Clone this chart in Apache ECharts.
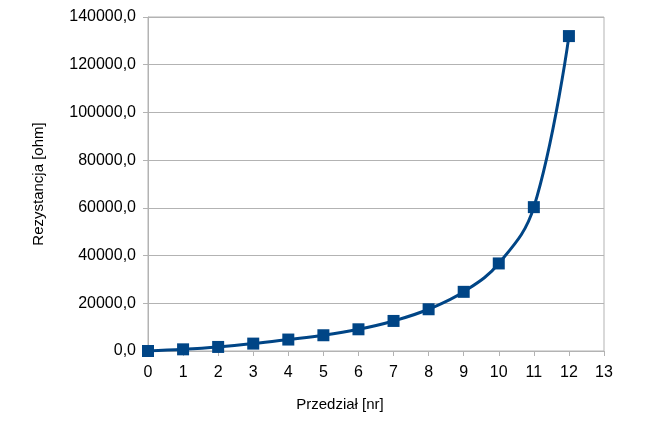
<!DOCTYPE html>
<html>
<head>
<meta charset="utf-8">
<script src="https://cdn.jsdelivr.net/npm/echarts@6/dist/echarts.min.js"></script>
<style>
  html, body { margin: 0; padding: 0; background: #fff; }
  #chart { width: 660px; height: 425px; }
</style>
</head>
<body>
<div id="chart"></div>
<script>
// numery przedziałów i odczytane rezystancje
const przedzialy = [0, 1, 2, 3, 4, 5, 6, 7, 8, 9, 10, 11, 12];
const rezystancja = [0, 700, 1700, 3100, 4800, 6600, 9100, 12600, 17500, 24800, 36700, 60300, 132000];

const fmt = function (v) {
  return v.toFixed(1).replace(".", ",");
};

const chart = echarts.init(document.getElementById("chart"));

chart.setOption({
  animation: false,
  textStyle: { fontFamily: "Liberation Sans" },
  grid: {
    left: 148,
    right: 56,
    top: 17,
    bottom: 74,
    show: true,
    borderColor: "#b3b3b3",
    borderWidth: 1,
  },
  xAxis: {
    type: "value",
    min: 0,
    max: 13,
    interval: 1,
    name: "Przedział [nr]",
    nameLocation: "middle",
    nameGap: 46,
    nameTextStyle: { fontSize: 15, color: "#000", padding: [0, 72, 0, 0] },
    axisLine: { lineStyle: { color: "#b3b3b3" } },
    axisTick: { show: true, length: 5, lineStyle: { color: "#b3b3b3" } },
    axisLabel: { fontSize: 16, color: "#000", margin: 14 },
    splitLine: { show: false },
  },
  yAxis: {
    type: "value",
    min: 0,
    max: 140000,
    interval: 20000,
    name: "Rezystancja [ohm]",
    nameLocation: "middle",
    nameGap: 102,
    nameTextStyle: { fontSize: 15, color: "#000" },
    axisLine: { show: true, lineStyle: { color: "#b3b3b3" } },
    axisTick: { show: true, length: 5, lineStyle: { color: "#b3b3b3" } },
    axisLabel: { fontSize: 16, color: "#000", margin: 12, formatter: fmt },
    splitLine: { lineStyle: { color: "#b3b3b3" } },
  },
  series: [
    {
      type: "line",
      data: przedzialy.map((x, i) => [x, rezystancja[i]]),
      smooth: 0.4,
      symbol: "rect",
      symbolSize: 12,
      lineStyle: { color: "#004586", width: 3 },
      itemStyle: { color: "#004586" },
    },
  ],
});
</script>
</body>
</html>
